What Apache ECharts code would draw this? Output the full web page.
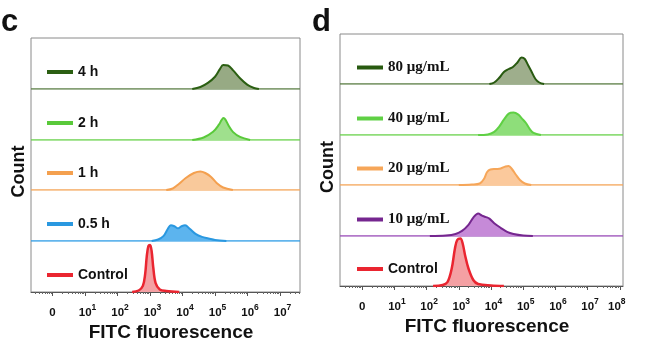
<!DOCTYPE html>
<html><head><meta charset="utf-8">
<script src="https://cdn.jsdelivr.net/npm/echarts@6/dist/echarts.min.js"></script>
<style>html,body{margin:0;padding:0;background:#fff}#chart{width:650px;height:350px}</style>
</head><body><div id="chart"></div>
<script>
// ---------- data: panel c (x = log10 fluorescence, y = relative count, % of row) ----------
const cNames = ['4 h', '2 h', '1 h', '0.5 h', 'Control'];
const c4h  = [[4.30,0],[4.55,4],[4.78,12],[5.0,24],[5.15,39],[5.25,47],[5.4,46],[5.55,37],[5.77,21],[6.0,8],[6.2,2],[6.35,0]];
const c2h  = [[4.3,0],[4.65,5],[4.94,16],[5.12,30],[5.2,39],[5.26,43],[5.32,40],[5.42,28],[5.55,16],[5.77,6],[6.08,0]];
const c1h  = [[3.5,0],[3.7,3],[3.85,10],[4.1,24],[4.35,34],[4.55,37],[4.7,34],[4.88,26],[5.05,14],[5.25,5],[5.55,0]];
const c05h = [[3.05,0],[3.25,3],[3.42,10],[3.55,24],[3.64,31],[3.75,29],[3.86,25],[3.97,29],[4.08,31],[4.22,24],[4.4,14],[4.6,8],[4.8,5],[5.0,2],[5.35,0]];
const cCtrl = [[2.45,0],[2.65,3],[2.78,12],[2.85,35],[2.9,70],[2.95,90],[3.0,92],[3.05,80],[3.1,48],[3.17,18],[3.3,5],[3.5,2],[3.9,0]];
const cTickExp = [0,1,2,3,4,5,6,7];

// ---------- data: panel d ----------
const dNames = ['80 μg/mL', '40 μg/mL', '20 μg/mL', '10 μg/mL', 'Control'];
const d80 = [[3.95,0],[4.1,3],[4.25,12],[4.4,24],[4.55,30],[4.68,34],[4.82,43],[4.95,53],[5.05,50],[5.15,38],[5.25,26],[5.38,10],[5.5,3],[5.65,0]];
const d40 = [[3.6,0],[3.9,1],[4.1,6],[4.25,16],[4.4,30],[4.55,42],[4.7,44],[4.85,40],[4.95,33],[5.08,24],[5.2,12],[5.32,4],[5.55,0]];
const d20 = [[3.0,0],[3.4,1],[3.65,3],[3.78,12],[3.88,26],[3.98,31],[4.15,32],[4.3,33],[4.45,37],[4.55,38],[4.65,32],[4.78,20],[4.9,10],[5.05,3],[5.25,0]];
const d10 = [[2.1,0],[2.6,1],[2.9,4],[3.1,10],[3.3,22],[3.45,36],[3.6,44],[3.72,40],[3.85,37],[3.95,34],[4.1,25],[4.3,16],[4.5,8],[4.7,4],[5.0,1],[5.3,0]];
const dCtrl = [[2.2,0],[2.5,2],[2.65,8],[2.78,35],[2.88,75],[2.95,92],[3.05,95],[3.12,85],[3.2,60],[3.3,35],[3.45,12],[3.6,4],[4.0,1],[4.4,0]];
const dTickExp = [0,1,2,3,4,5,6,7,8];

// ---------- styles ----------
const cLine = ['#2b5f12','#59c93a','#f4a04f','#2a98e0','#ea2530'];
const cFill = ['#97aa84','#9fe08d','#f9c99b','#5cb4ee','#f4a0a3'];
const cBase = ['#5e8048','#6ad24c','#f5a65a','#2f9de6','#ea2530'];
const dLine = ['#285a10','#5fd044','#f6a659','#75268f','#ea2530'];
const dFill = ['#9eae8c','#8ede7a','#fbc99c','#c68ad8','#f4a0a3'];
const dBase = ['#5b7e45','#6ad24c','#f5a65a','#9a4db8','#ea2530'];

const SANS = 'Arial, "Liberation Sans", sans-serif';
const SERIF = '"Times New Roman", "Liberation Serif", serif';

const option = {
  animation: false,
  backgroundColor: '#fff',
  title: [
    {text: 'c', left: 1, top: 7, padding: 0, textStyle: {fontSize: 31, fontWeight: 'bold', fontFamily: SANS, color: '#111'}},
    {text: 'd', left: 312, top: 7, padding: 0, textStyle: {fontSize: 31, fontWeight: 'bold', fontFamily: SANS, color: '#111'}}
  ],
  grid: [], xAxis: [], yAxis: [], series: [], legend: []
};

function minorTicks(min, max) {
  const out = [];
  for (let k = Math.floor(min); k <= Math.ceil(max); k++) {
    for (let m = 2; m <= 9; m++) {
      const v = k + Math.log10(m);
      if (v > min && v < max) out.push(v);
    }
  }
  return out;
}

function addPanel(P) {
  const H = 350 - P.top - P.bottom;
  const rowH = H / 5;
  const gFrame = option.grid.length;
  option.grid.push({left: P.left, right: P.right, top: P.top, bottom: P.bottom, show: true,
    borderColor: '#8a8a8a', borderWidth: 1, backgroundColor: 'transparent', outerBoundsMode: 'none', z: 0});
  option.xAxis.push({gridIndex: gFrame, type: 'value', min: P.min, max: P.max, show: false});
  option.yAxis.push({gridIndex: gFrame, type: 'value', min: 0, max: 1,
    axisLine: {show: false}, axisTick: {show: false}, axisLabel: {show: false}, splitLine: {show: false},
    name: 'Count', nameLocation: 'middle', nameGap: P.countGap,
    nameTextStyle: {fontSize: 18, fontWeight: 'bold', fontFamily: SANS, color: '#111', padding: [0, P.countShift, 0, 0]}});
  const lastExp = P.ticks[P.ticks.length - 1];
  for (let i = 0; i < 5; i++) {
    const gi = option.grid.length;
    const top = Math.round(P.top + i * rowH);
    const bot = Math.round(P.top + (i + 1) * rowH);
    option.grid.push({left: P.left, right: P.right, top: top, height: bot - top, outerBoundsMode: 'none'});
    const last = i === 4;
    const xi = option.xAxis.length;
    if (!last) {
      option.xAxis.push({gridIndex: gi, type: 'value', min: P.min, max: P.max, position: 'bottom',
        axisLine: {show: false}, axisTick: {show: false}, axisLabel: {show: false}, splitLine: {show: false}});
    } else {
      option.xAxis.push({gridIndex: gi, type: 'value', min: P.min, max: P.max, position: 'bottom',
        axisLine: {show: true, lineStyle: {color: '#555', width: 1}},
        axisTick: {show: true, customValues: P.ticks, length: 4, lineStyle: {color: '#555'}},
        axisLabel: {show: true, customValues: P.ticks, margin: 11, showMinLabel: true, showMaxLabel: true,
          formatter: function (v) {
            if (v === 0) return '{z|0}';
            if (P.lastPad && v === lastExp) return '{b|10}{e|' + v + '}';
            return '{b|10}{s|' + v + '}';
          },
          rich: {
            z: {fontSize: 11.5, fontWeight: 'bold', fontFamily: SANS, color: '#111', lineHeight: 20},
            b: {fontSize: 11.5, fontWeight: 'bold', fontFamily: SANS, color: '#111', lineHeight: 20, padding: [0, 0, 0, 5]},
            s: {fontSize: 8.5, fontWeight: 'bold', fontFamily: SANS, color: '#111', lineHeight: 8, verticalAlign: 'top'},
            e: {fontSize: 8.5, fontWeight: 'bold', fontFamily: SANS, color: '#111', lineHeight: 8, verticalAlign: 'top', padding: [0, P.lastPad || 0, 0, 0]}
          }},
        splitLine: {show: false},
        name: 'FITC fluorescence', nameLocation: 'middle', nameGap: 31,
        nameTextStyle: {fontSize: 19, fontWeight: 'bold', fontFamily: SANS, color: '#111', padding: [0, 0, 0, 11]}});
      option.xAxis.push({gridIndex: gi, type: 'value', min: P.min, max: P.max, position: 'bottom',
        axisLine: {show: false}, axisLabel: {show: false}, splitLine: {show: false},
        axisTick: {show: true, customValues: minorTicks(P.min, P.max), length: 2, lineStyle: {color: '#666'}}});
    }
    const yi = option.yAxis.length;
    option.yAxis.push({gridIndex: gi, type: 'value', min: 0, max: 100, show: false, splitLine: {show: false}});
    if (!last) {
      // row baseline in the series colour, spanning the axis range
      option.series.push({
        type: 'line', name: P.names[i] + ' baseline', xAxisIndex: xi, yAxisIndex: yi,
        data: [[P.min, 0], [P.max, 0]], showSymbol: false, silent: true, z: 2,
        lineStyle: {color: P.base[i], width: 1.3}, legendHoverLink: false
      });
    }
    option.series.push({
      type: 'line', name: P.names[i], xAxisIndex: xi, yAxisIndex: yi, data: P.data[i],
      smooth: 0.35, showSymbol: false, color: P.line[i], z: 3,
      lineStyle: {color: P.line[i], width: last ? 2.5 : 2},
      areaStyle: {color: P.fill[i], opacity: 1}
    });
    const isSerif = P.serif && P.names[i] !== 'Control';
    option.legend.push({
      data: [P.names[i]], left: P.legLeft, top: bot - 24, padding: 0, itemGap: 0,
      icon: 'rect', itemWidth: 26, itemHeight: 4, selectedMode: false,
      textStyle: {fontSize: isSerif ? 15 : 14, fontWeight: 'bold', fontFamily: isSerif ? SERIF : SANS, color: '#111'}
    });
  }
}

addPanel({left: 31, right: 350, top: 38, bottom: 58, min: -0.662, max: 7.615,
  names: cNames, data: [c4h, c2h, c1h, c05h, cCtrl], line: cLine, fill: cFill, base: cBase,
  ticks: cTickExp, legLeft: 47, countGap: 3, countShift: 13, serif: false, lastPad: 0});
addPanel({left: 340, right: 27, top: 34, bottom: 64, min: -0.69, max: 8.10,
  names: dNames, data: [d80, d40, d20, d10, dCtrl], line: dLine, fill: dFill, base: dBase,
  ticks: dTickExp, legLeft: 357, countGap: 3, countShift: 14, serif: true, lastPad: 11});

const chart = echarts.init(document.getElementById('chart'), null, {renderer: 'canvas'});
chart.setOption(option);
</script>
</body></html>
